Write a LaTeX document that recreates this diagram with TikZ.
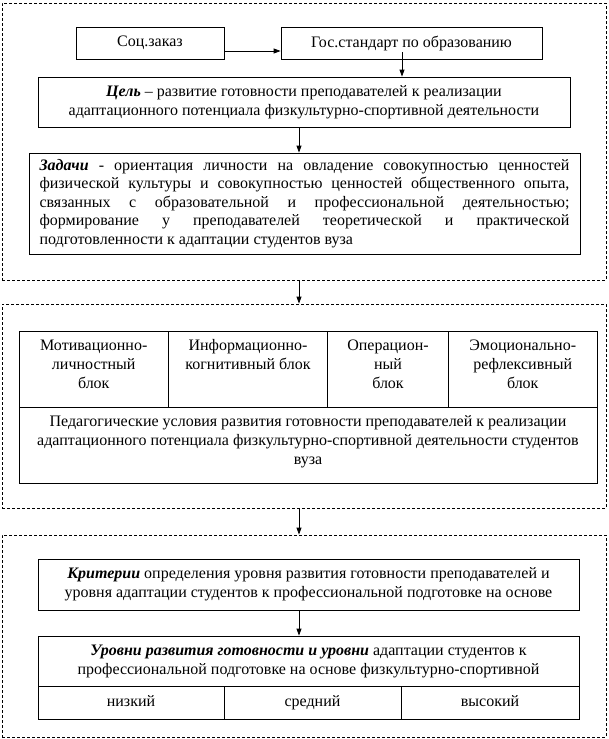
\documentclass[tikz,border=0pt]{standalone}
\usepackage{fontspec}
\setmainfont{Liberation Serif}
\usetikzlibrary{arrows.meta}
\tikzstyle{box}=[draw,rectangle,line width=0.8pt,inner sep=0pt,align=center,font=\fontsize{16}{19}\selectfont]
\tikzstyle{level}=[box,minimum height=33pt,text height=11pt,text depth=4pt]
\tikzstyle{dashframe}=[draw,rectangle,line width=0.8pt,dash pattern=on 3pt off 2pt,inner sep=0pt]
\tikzstyle{arr}=[line width=0.8pt,-{Triangle[length=7pt,width=5pt]}]
\newcommand{\celltext}[2]{\parbox[c][64pt][t]{#1}{\centering\strut #2}}

\begin{document}
\begin{tikzpicture}[x=1pt,y=-1pt]
          \useasboundingbox (0,0) rectangle (608,739);
          % dashed frames
          \node[dashframe,minimum width=604pt,minimum height=277pt] (frameA) at (304,141.5) {};
          \node[dashframe,minimum width=604pt,minimum height=204pt] (frameB) at (304,406) {};
          \node[dashframe,minimum width=604pt,minimum height=202pt] (frameC) at (304,636) {};
          % first frame
          \node[box,minimum width=148pt,minimum height=32pt] (soc) at (150,43) {Соц.заказ};
          \node[box,minimum width=261pt,minimum height=32pt] (gos) at (411.5,43) {Гос.стандарт по образованию};
          \node[box,minimum width=532pt,minimum height=50pt] (cel) at (304,102)
            {\textbf{\textit{Цель}} – развитие готовности преподавателей к реализации\\
             адаптационного потенциала физкультурно-спортивной деятельности};
          \node[box,minimum width=551pt,minimum height=101pt,text width=530pt,align=justify,
                font=\fontsize{16}{18.5}\selectfont] (zad) at (304.5,203.5)
            {\textbf{\textit{Задачи}} - ориентация личности на овладение совокупностью ценностей\linebreak
             физической культуры и совокупностью ценностей общественного опыта,\linebreak
             связанных с образовательной и профессиональной деятельностью;\linebreak
             формирование у преподавателей теоретической и практической\linebreak
             подготовленности к адаптации студентов вуза};
          \draw[arr] ([yshift=-8pt]soc.east) -- ([yshift=-8pt]gos.west);
          \draw[arr] ([xshift=-9.5pt,yshift=7pt]gos.south) -- ([xshift=98pt]cel.north);
          \draw[arr] ([xshift=-5pt]cel.south) -- ([xshift=-5.5pt]zad.north);
          % second frame
          \node[box,minimum width=149.5pt,minimum height=76pt] (motiv) at (93.75,369)
            {\celltext{137pt}{Мотивационно-\\личностный\\блок}};
          \node[box,minimum width=159pt,minimum height=76pt] (inform) at (248,369)
            {\celltext{147pt}{Информационно-\\когнитивный блок}};
          \node[box,minimum width=121pt,minimum height=76pt] (operac) at (388,369)
            {\celltext{109pt}{Операцион-\\ный\\блок}};
          \node[box,minimum width=148.5pt,minimum height=76pt] (emoc) at (522.75,369)
            {\celltext{136pt}{Эмоционально-\\рефлексивный\\блок}};
          \node[box,minimum width=578pt,minimum height=76pt] (ped) at (308,445)
            {\celltext{566pt}{Педагогические условия развития готовности преподавателей к реализации\\
             адаптационного потенциала физкультурно-спортивной деятельности студентов\\
             вуза}};
          % third frame
          \node[box,minimum width=541pt,minimum height=51pt] (krit) at (308.5,584.5)
            {\textbf{\textit{Критерии}} определения уровня развития готовности преподавателей и\\
             уровня адаптации студентов к профессиональной подготовке на основе};
          \node[box,minimum width=541pt,minimum height=50pt] (urov) at (308.5,661)
            {\textbf{\textit{Уровни развития готовности и уровни}} адаптации студентов к\\
             профессиональной подготовке на основе физкультурно-спортивной};
          \node[level,minimum width=186pt] (low) at (131,702.5) {низкий};
          \node[level,minimum width=177pt] (mid) at (312.5,702.5) {средний};
          \node[level,minimum width=178pt] (high) at (490,702.5) {высокий};
          \draw[arr] ([xshift=-9.5pt]krit.south) -- ([xshift=-9.5pt]urov.north);
          % between frames
          \draw[arr] ([xshift=-5pt]frameA.south) -- ([xshift=-5pt]frameB.north);
          \draw[arr] ([xshift=-5pt]frameB.south) -- ([xshift=-5pt]frameC.north);
        \end{tikzpicture}
\end{document}
